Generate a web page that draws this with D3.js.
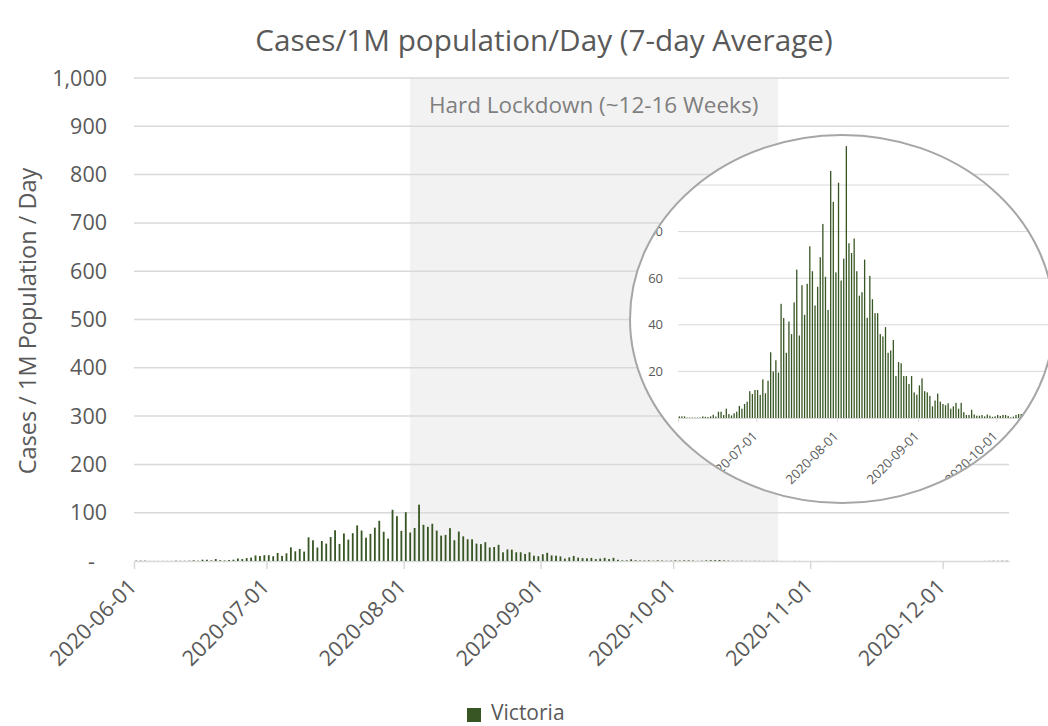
<!DOCTYPE html>
<html lang="en">
<head>
  <meta charset="UTF-8">
  <title>Cases/1M population/Day (7-day Average)</title>
  <script src="https://cdn.jsdelivr.net/npm/d3@7"></script>
  <style>
    * {
      margin: 0;
      padding: 0;
    }
    body {
      background: #fff;
    }
    svg {
      display: block;
      font-family: "Open Sans", sans-serif;
    }
  </style>
</head>
<body>
  <div id="chart"></div>
  <script>
  // daily cases per 1M population, Victoria
  var june = [0.7, 0.7, 0.7, 0.2, 0.2, 0.2, 0.2, 0.2, 0.2, 0.7, 0.5, 0.4, 0.7, 1.4, 0.6,
              2.7, 2.7, 1.3, 4, 1.7, 1.1, 2, 2.7, 5.2, 4, 6, 7, 11.5, 10.3, 12];
  var july = [12, 9.9, 16.6, 10.6, 16, 28.2, 20, 24.8, 19.5, 49, 42.9, 28, 41.4, 36, 49.6,
              63.7, 35.4, 57, 44.3, 57.6, 73.7, 63, 48.3, 56.3, 69, 83.3, 60.6, 46.4, 106, 92.8, 62.5];
  var aug  = [101, 59, 68.4, 116.7, 75, 70.8, 77, 63, 52.5, 54, 68, 43, 61, 51, 45,
              45, 36, 35, 39, 28, 29, 33.5, 18, 24, 23.5, 18, 18, 14.6, 18, 11, 10];
  var sep  = [14, 17, 11.5, 11, 9.5, 5, 7.5, 10.5, 7, 6, 5.5, 6.3, 4, 5, 6.5,
              4, 6.5, 2.5, 1.3, 1.3, 3.5, 1.5, 1, 1, 1.3, 0.7, 1.5, 1, 0.5, 0.7];
  var oct  = [1.3, 0.9, 1.3, 1.3, 0.9, 0.3, 0.6, 1.3, 1.7, 1.7, 2, 1.2, 0.8, 0.5, 0.4,
              0.6, 0.3, 0.2, 0.4, 0.3, 0.2, 0.1, 0.3, 0.2, 0.1, 0, 0.1, 0.2, 0.1, 0, 0];
  var nov  = [0, 0, 0, 0.1, 0, 0, 0, 0, 0, 0, 0.1, 0, 0, 0, 0,
              0, 0, 0, 0, 0, 0, 0, 0, 0, 0, 0, 0, 0, 0, 0];
  var dec  = [0, 0, 0, 0, 0, 0, 0, 0, 0, 0.2, 0.3, 0.5, 0.4, 0.6, 0.5];

  var startDate = "2020-06-01";
  var endDate = "2020-12-16";
  var lockdown = ["2020-08-02", "2020-10-25"];
  var lockdownLabel = "Hard Lockdown (~12-16 Weeks)";
  var monthTicks = ["2020-06-01", "2020-07-01", "2020-08-01", "2020-09-01",
                    "2020-10-01", "2020-11-01", "2020-12-01"];
  var yTicks = [0, 100, 200, 300, 400, 500, 600, 700, 800, 900, 1000];
  var insetTicks = [0, 20, 40, 60, 80, 100];
  var seriesName = "Victoria";

  var width = 1048, height = 726;
  var green = "#375623", grid = "#d9d9d9", textCol = "#595959";

  var parse = d3.timeParse("%Y-%m-%d");
  var values = june.concat(july, aug, sep, oct, nov, dec);
  var data = values.map(function (v, i) {
    return { date: d3.timeDay.offset(parse(startDate), i), value: v };
  });

  var svg = d3.select("#chart").append("svg")
      .attr("width", width)
      .attr("height", height);

  // main scales
  var x = d3.scaleTime().domain([parse(startDate), parse(endDate)]).range([134, 1009]);
  var y = d3.scaleLinear().domain([0, 1000]).range([561, 78]);
  var dayW = x(d3.timeDay.offset(parse(startDate), 1)) - x(parse(startDate));

  // lockdown band
  svg.append("rect")
      .attr("x", x(parse(lockdown[0])) + 2)
      .attr("y", y(1000))
      .attr("width", x(parse(lockdown[1])) - x(parse(lockdown[0])) - 3)
      .attr("height", y(0) - y(1000))
      .attr("fill", "#f2f2f2");

  // gridlines
  svg.append("g").selectAll("line")
      .data(yTicks.filter(function (d) { return d > 0; }))
      .enter().append("line")
        .attr("x1", x.range()[0]).attr("x2", x.range()[1])
        .attr("y1", function (d) { return y(d); })
        .attr("y2", function (d) { return y(d); })
        .attr("stroke", grid)
        .attr("stroke-width", 1.5);

  // y labels
  svg.append("g").selectAll("text")
      .data(yTicks)
      .enter().append("text")
        .attr("x", function (d) { return d === 0 ? 95 : 107; })
        .attr("y", function (d) { return y(d); })
        .attr("dy", "0.35em")
        .attr("text-anchor", "end")
        .attr("fill", textCol)
        .style("font-size", "21.5px")
        .text(function (d) { return d === 0 ? "-" : d3.format(",")(d); });

  // x axis
  var xAxis = d3.axisBottom(x)
      .tickValues(monthTicks.map(parse))
      .tickSize(8)
      .tickSizeOuter(0)
      .tickFormat("");
  var gx = svg.append("g")
      .attr("transform", "translate(0," + y(0) + ")")
      .call(xAxis);
  gx.select(".domain").attr("stroke", grid).attr("stroke-width", 1.5);
  gx.selectAll(".tick line").attr("stroke", grid).attr("stroke-width", 1.5);

  svg.append("g").selectAll("text")
      .data(monthTicks)
      .enter().append("text")
        .attr("transform", function (d) {
          return "translate(" + (x(parse(d)) + 4) + "," + 588 + ") rotate(-45)";
        })
        .attr("text-anchor", "end")
        .attr("fill", textCol)
        .style("font-size", "21.5px")
        .text(function (d) { return d; });

  // bars
  var barW = 1.8;
  svg.append("g").selectAll("rect")
      .data(data)
      .enter().append("rect")
        .attr("x", function (d) { return x(d.date) + dayW / 2 - barW / 2; })
        .attr("y", function (d) { return y(d.value); })
        .attr("width", barW)
        .attr("height", function (d) { return y(0) - y(d.value); })
        .attr("fill", green);

  // lockdown label
  svg.append("text")
      .attr("x", (x(parse(lockdown[0])) + x(parse(lockdown[1]))) / 2)
      .attr("y", 113)
      .attr("text-anchor", "middle")
      .attr("fill", "#7f7f7f")
      .style("font-size", "22.5px")
      .text(lockdownLabel);

  // title
  svg.append("text")
      .attr("x", 544)
      .attr("y", 51)
      .attr("text-anchor", "middle")
      .attr("fill", textCol)
      .style("font-size", "29.7px")
      .text("Cases/1M population/Day (7-day Average)");

  // y axis title
  svg.append("text")
      .attr("transform", "translate(36,321) rotate(-90)")
      .attr("text-anchor", "middle")
      .attr("fill", textCol)
      .style("font-size", "23.5px")
      .text("Cases / 1M Population / Day");

  // legend
  svg.append("rect")
      .attr("x", 467).attr("y", 708)
      .attr("width", 14).attr("height", 14)
      .attr("fill", green);
  svg.append("text")
      .attr("x", 491).attr("y", 720)
      .attr("fill", textCol)
      .style("font-size", "21px")
      .text(seriesName);

  // ---- magnified inset ----
  var ell = { cx: 842, cy: 319, rx: 212, ry: 184 };
  svg.append("clipPath").attr("id", "lens")
    .append("ellipse")
      .attr("cx", ell.cx).attr("cy", ell.cy)
      .attr("rx", ell.rx).attr("ry", ell.ry);

  svg.append("ellipse")
      .attr("cx", ell.cx).attr("cy", ell.cy)
      .attr("rx", ell.rx).attr("ry", ell.ry)
      .attr("fill", "#fff");

  var xi = d3.scaleTime().domain([parse(startDate), parse(endDate)]).range([678, 678 + 198 * 2.61]);
  var yi = d3.scaleLinear().domain([0, 100]).range([418, 185]);
  var dayWi = xi(d3.timeDay.offset(parse(startDate), 1)) - xi(parse(startDate));

  var inset = svg.append("g").attr("clip-path", "url(#lens)");

  inset.append("g").selectAll("line")
      .data(insetTicks.filter(function (d) { return d > 0; }))
      .enter().append("line")
        .attr("x1", xi.range()[0]).attr("x2", ell.cx + ell.rx)
        .attr("y1", function (d) { return yi(d); })
        .attr("y2", function (d) { return yi(d); })
        .attr("stroke", grid)
        .attr("stroke-width", 1);

  inset.append("g").selectAll("text")
      .data(insetTicks)
      .enter().append("text")
        .attr("x", 663)
        .attr("y", function (d) { return yi(d); })
        .attr("dy", "0.35em")
        .attr("text-anchor", "end")
        .attr("fill", textCol)
        .style("font-size", "13px")
        .text(function (d) { return d; });

  var xAxisI = d3.axisBottom(xi)
      .tickValues(monthTicks.map(parse).filter(function (d) { return xi(d) < ell.cx + ell.rx; }))
      .tickSize(4)
      .tickSizeOuter(0)
      .tickFormat("");
  var gxi = inset.append("g")
      .attr("transform", "translate(0," + yi(0) + ")")
      .call(xAxisI);
  gxi.select(".domain").attr("stroke", grid).attr("stroke-width", 1);
  gxi.selectAll(".tick line").attr("stroke", grid).attr("stroke-width", 1);

  // only the month labels that fall inside the lens
  inset.append("g").selectAll("text")
      .data(monthTicks.filter(function (d) { return xi(parse(d)) < ell.cx + ell.rx * 0.85; }))
      .enter().append("text")
        .attr("transform", function (d) {
          return "translate(" + (xi(parse(d)) + 2) + "," + 437 + ") rotate(-45)";
        })
        .attr("text-anchor", "end")
        .attr("fill", textCol)
        .style("font-size", "13px")
        .text(function (d) { return d; });

  var barWi = 1.3;
  inset.append("g").selectAll("rect")
      .data(data.filter(function (d) { return xi(d.date) < ell.cx + ell.rx; }))
      .enter().append("rect")
        .attr("x", function (d) { return xi(d.date) + dayWi / 2 - barWi / 2; })
        .attr("y", function (d) { return yi(d.value); })
        .attr("width", barWi)
        .attr("height", function (d) { return yi(0) - yi(d.value); })
        .attr("fill", green);

  svg.append("ellipse")
      .attr("cx", ell.cx).attr("cy", ell.cy)
      .attr("rx", ell.rx).attr("ry", ell.ry)
      .attr("fill", "none")
      .attr("stroke", "#a6a6a6")
      .attr("stroke-width", 2);
  </script>
</body>
</html>
